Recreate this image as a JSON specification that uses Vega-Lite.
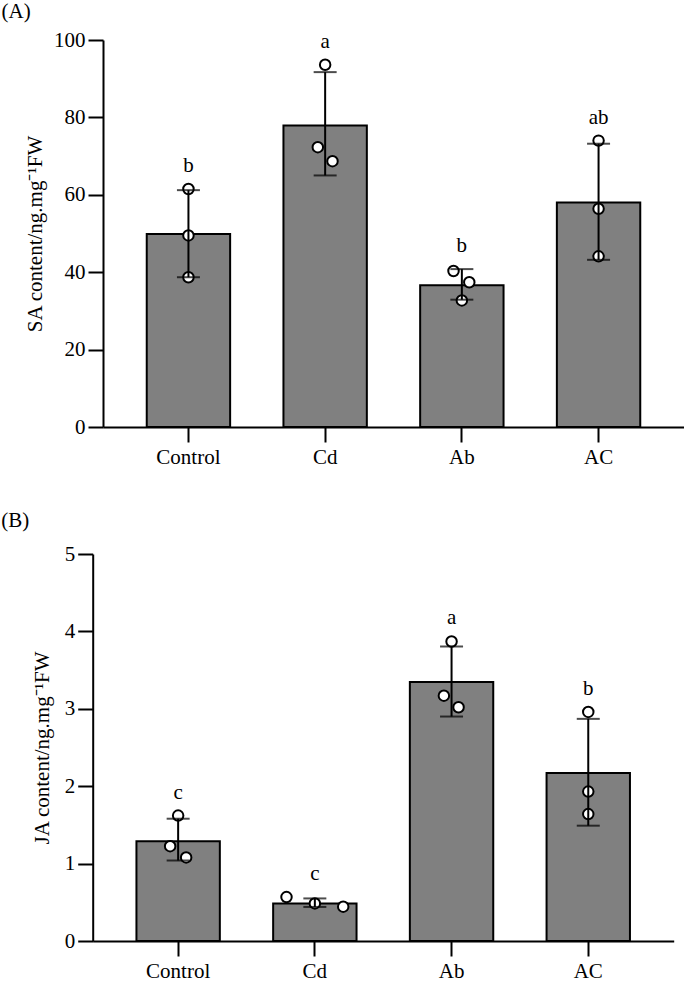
{
  "$schema": "https://vega.github.io/schema/vega-lite/v6.json",
  "padding": {"left": 1, "top": 1, "right": 0, "bottom": 0},
  "background": "white",
  "spacing": 43,
  "align": "none",
  "datasets": {
    "saSummary": [
      {"group": "Control", "mean": 49.9, "lower": 38.7, "upper": 61.2, "letter": "b"},
      {"group": "Cd", "mean": 77.9, "lower": 65.0, "upper": 91.7, "letter": "a"},
      {"group": "Ab", "mean": 36.6, "lower": 32.9, "upper": 40.8, "letter": "b"},
      {"group": "AC", "mean": 58.0, "lower": 43.2, "upper": 73.2, "letter": "ab"}
    ],
    "saPoints": [
      {"group": "Control", "value": 61.5, "jitter": 0},
      {"group": "Control", "value": 49.5, "jitter": 0},
      {"group": "Control", "value": 38.7, "jitter": 0},
      {"group": "Cd", "value": 93.6, "jitter": 0},
      {"group": "Cd", "value": 72.3, "jitter": -0.088},
      {"group": "Cd", "value": 68.7, "jitter": 0.088},
      {"group": "Ab", "value": 40.3, "jitter": -0.1},
      {"group": "Ab", "value": 37.4, "jitter": 0.089},
      {"group": "Ab", "value": 32.7, "jitter": 0},
      {"group": "AC", "value": 74.0, "jitter": 0},
      {"group": "AC", "value": 56.4, "jitter": 0},
      {"group": "AC", "value": 44.1, "jitter": 0}
    ],
    "jaSummary": [
      {"group": "Control", "mean": 1.29, "lower": 1.04, "upper": 1.58, "letter": "c"},
      {"group": "Cd", "mean": 0.486, "lower": 0.44, "upper": 0.55, "letter": "c"},
      {"group": "Ab", "mean": 3.346, "lower": 2.9, "upper": 3.805, "letter": "a"},
      {"group": "AC", "mean": 2.17, "lower": 1.49, "upper": 2.87, "letter": "b"}
    ],
    "jaPoints": [
      {"group": "Control", "value": 1.62, "jitter": 0},
      {"group": "Control", "value": 1.225, "jitter": -0.096},
      {"group": "Control", "value": 1.08, "jitter": 0.096},
      {"group": "Cd", "value": 0.567, "jitter": -0.34},
      {"group": "Cd", "value": 0.486, "jitter": 0},
      {"group": "Cd", "value": 0.444, "jitter": 0.34},
      {"group": "Ab", "value": 3.87, "jitter": 0},
      {"group": "Ab", "value": 3.17, "jitter": -0.092},
      {"group": "Ab", "value": 3.02, "jitter": 0.084},
      {"group": "AC", "value": 2.96, "jitter": 0},
      {"group": "AC", "value": 1.93, "jitter": 0},
      {"group": "AC", "value": 1.64, "jitter": 0}
    ]
  },
  "vconcat": [
    {
      "width": 581,
      "height": 387,
      "title": {"text": "(A)", "anchor": "start", "frame": "bounds", "dx": -23, "offset": 7},
      "resolve": {"scale": {"xOffset": "independent"}},
      "layer": [
        {
          "data": {"name": "saSummary"},
          "mark": {"type": "bar", "fill": "#808080", "stroke": "black", "strokeWidth": 2},
          "encoding": {
            "x": {"field": "group", "type": "nominal", "sort": ["Control", "Cd", "Ab", "AC"], "scale": {"paddingInner": 0.39, "paddingOuter": 0.32}, "axis": {"title": null, "labelAngle": 0, "labelPadding": 4}},
            "y": {"field": "mean", "type": "quantitative", "scale": {"domain": [0, 100], "nice": false}, "axis": {"title": "SA content/ng.mg⁻¹FW", "values": [0, 20, 40, 60, 80, 100], "format": "d", "titlePadding": 8}}
          }
        },
        {
          "data": {"name": "saPoints"},
          "mark": {"type": "point", "shape": "circle", "filled": true, "fill": "white", "stroke": "black", "strokeWidth": 2, "size": 110, "opacity": 1},
          "encoding": {
            "x": {"field": "group", "type": "nominal", "sort": ["Control", "Cd", "Ab", "AC"]},
            "xOffset": {"field": "jitter", "type": "quantitative", "scale": {"domain": [-0.5, 0.5], "range": [0, 83.4]}},
            "y": {"field": "value", "type": "quantitative"}
          }
        },
        {
          "data": {"name": "saSummary"},
          "mark": {"type": "rule", "color": "black", "strokeWidth": 2},
          "encoding": {
            "x": {"field": "group", "type": "nominal", "sort": ["Control", "Cd", "Ab", "AC"]},
            "y": {"field": "lower", "type": "quantitative"},
            "y2": {"field": "upper"}
          }
        },
        {
          "data": {"name": "saSummary"},
          "mark": {"type": "tick", "orient": "horizontal", "color": "black", "size": 23, "thickness": 2},
          "encoding": {
            "x": {"field": "group", "type": "nominal", "sort": ["Control", "Cd", "Ab", "AC"]},
            "y": {"field": "lower", "type": "quantitative"}
          }
        },
        {
          "data": {"name": "saSummary"},
          "mark": {"type": "tick", "orient": "horizontal", "color": "black", "size": 23, "thickness": 2},
          "encoding": {
            "x": {"field": "group", "type": "nominal", "sort": ["Control", "Cd", "Ab", "AC"]},
            "y": {"field": "upper", "type": "quantitative"}
          }
        },
        {
          "data": {"name": "saPoints"},
          "transform": [
            {"aggregate": [{"op": "max", "field": "value", "as": "maxv"}], "groupby": ["group"]},
            {"lookup": "group", "from": {"data": {"name": "saSummary"}, "key": "group", "fields": ["letter", "upper"]}},
            {"calculate": "max(datum.maxv, datum.upper)", "as": "top"}
          ],
          "mark": {"type": "text", "baseline": "alphabetic", "dy": -17, "fontSize": 21, "font": "Liberation Serif", "color": "black"},
          "encoding": {
            "x": {"field": "group", "type": "nominal", "sort": ["Control", "Cd", "Ab", "AC"]},
            "y": {"field": "top", "type": "quantitative"},
            "text": {"field": "letter"}
          }
        }
      ]
    },
    {
      "width": 581,
      "height": 387,
      "title": {"text": "(B)", "anchor": "start", "frame": "bounds", "dx": -30, "offset": 12},
      "resolve": {"scale": {"xOffset": "independent"}},
      "layer": [
        {
          "data": {"name": "jaSummary"},
          "mark": {"type": "bar", "fill": "#808080", "stroke": "black", "strokeWidth": 2},
          "encoding": {
            "x": {"field": "group", "type": "nominal", "sort": ["Control", "Cd", "Ab", "AC"], "scale": {"paddingInner": 0.39, "paddingOuter": 0.32, "range": [-10.3, 570.7]}, "axis": {"title": null, "labelAngle": 0, "labelPadding": 4}},
            "y": {"field": "mean", "type": "quantitative", "scale": {"domain": [0, 5], "nice": false}, "axis": {"title": "JA content/ng.mg⁻¹FW", "values": [0, 1, 2, 3, 4, 5], "format": "d", "titlePadding": 12, "offset": 10.3}}
          }
        },
        {
          "data": {"name": "jaPoints"},
          "mark": {"type": "point", "shape": "circle", "filled": true, "fill": "white", "stroke": "black", "strokeWidth": 2, "size": 110, "opacity": 1},
          "encoding": {
            "x": {"field": "group", "type": "nominal", "sort": ["Control", "Cd", "Ab", "AC"]},
            "xOffset": {"field": "jitter", "type": "quantitative", "scale": {"domain": [-0.5, 0.5], "range": [0, 83.4]}},
            "y": {"field": "value", "type": "quantitative"}
          }
        },
        {
          "data": {"name": "jaSummary"},
          "mark": {"type": "rule", "color": "black", "strokeWidth": 2},
          "encoding": {
            "x": {"field": "group", "type": "nominal", "sort": ["Control", "Cd", "Ab", "AC"]},
            "y": {"field": "lower", "type": "quantitative"},
            "y2": {"field": "upper"}
          }
        },
        {
          "data": {"name": "jaSummary"},
          "mark": {"type": "tick", "orient": "horizontal", "color": "black", "size": 23, "thickness": 2},
          "encoding": {
            "x": {"field": "group", "type": "nominal", "sort": ["Control", "Cd", "Ab", "AC"]},
            "y": {"field": "lower", "type": "quantitative"}
          }
        },
        {
          "data": {"name": "jaSummary"},
          "mark": {"type": "tick", "orient": "horizontal", "color": "black", "size": 23, "thickness": 2},
          "encoding": {
            "x": {"field": "group", "type": "nominal", "sort": ["Control", "Cd", "Ab", "AC"]},
            "y": {"field": "upper", "type": "quantitative"}
          }
        },
        {
          "data": {"name": "jaPoints"},
          "transform": [
            {"aggregate": [{"op": "max", "field": "value", "as": "maxv"}], "groupby": ["group"]},
            {"lookup": "group", "from": {"data": {"name": "jaSummary"}, "key": "group", "fields": ["letter", "upper"]}},
            {"calculate": "max(datum.maxv, datum.upper)", "as": "top"}
          ],
          "mark": {"type": "text", "baseline": "alphabetic", "dy": -17, "fontSize": 21, "font": "Liberation Serif", "color": "black"},
          "encoding": {
            "x": {"field": "group", "type": "nominal", "sort": ["Control", "Cd", "Ab", "AC"]},
            "y": {"field": "top", "type": "quantitative"},
            "text": {"field": "letter"}
          }
        }
      ]
    }
  ],
  "config": {
    "view": {"stroke": null},
    "font": "Liberation Serif",
    "title": {"font": "Liberation Serif", "fontSize": 21, "fontWeight": "normal", "color": "black"},
    "axis": {
      "labelFont": "Liberation Serif",
      "labelFontSize": 21,
      "labelColor": "black",
      "titleFont": "Liberation Serif",
      "titleFontSize": 21,
      "titleFontWeight": "normal",
      "titleColor": "black",
      "domainColor": "black",
      "domainWidth": 2,
      "tickColor": "black",
      "tickWidth": 2,
      "tickSize": 15,
      "grid": false
    },
    "axisY": {"labelPadding": 3}
  }
}
